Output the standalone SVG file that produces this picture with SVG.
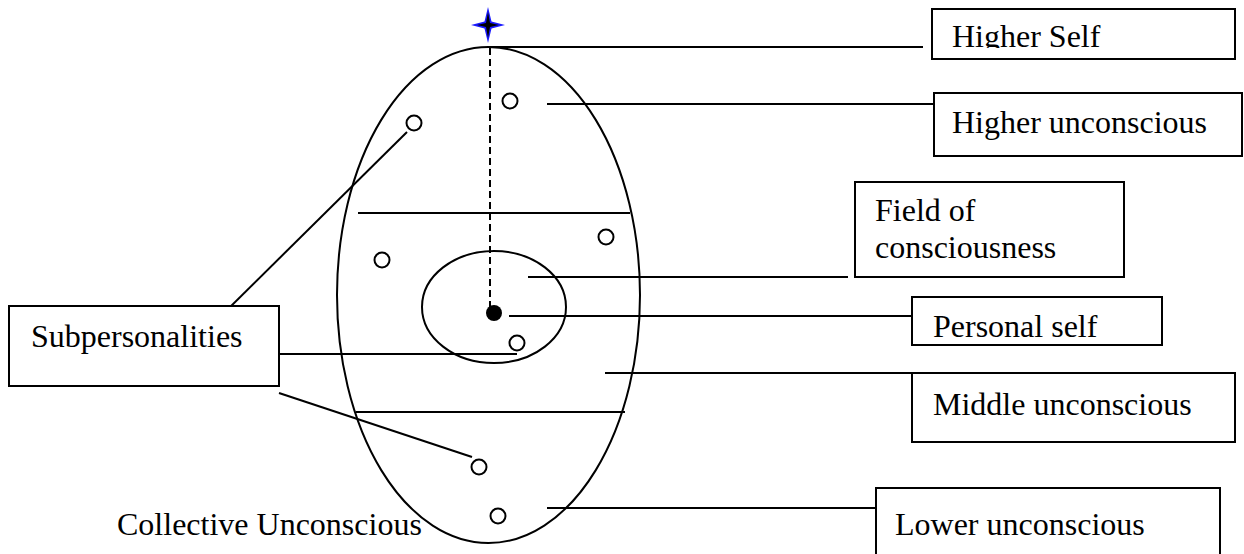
<svg xmlns="http://www.w3.org/2000/svg" width="1244" height="554" viewBox="0 0 1244 554">
<style>
.ln{stroke:#000;stroke-width:2;fill:none}
.box{stroke:#000;stroke-width:2;fill:#fff}
.dot{stroke:#000;stroke-width:2;fill:#fff}
.t{font-family:"Liberation Serif","Times New Roman",serif;font-size:32px;fill:#000}
</style>
<defs>
<clipPath id="clipHS"><rect x="933" y="9" width="300" height="39"/></clipPath>
<clipPath id="clipPS"><rect x="913" y="298" width="248" height="39"/></clipPath>
</defs>
<rect width="1244" height="554" fill="#fff"/>
<g id="psyche">
<ellipse class="ln" cx="488.5" cy="295" rx="151.5" ry="248"/>
<line class="ln" x1="358" y1="213" x2="630" y2="213"/>
<line class="ln" x1="356" y1="412" x2="625" y2="412"/>
<ellipse class="ln" cx="494" cy="307" rx="72" ry="56"/>
<line class="ln" x1="490" y1="48" x2="490" y2="307" stroke-dasharray="7,4"/>
<circle cx="494" cy="313" r="8" fill="#000"/>
<circle class="dot" cx="510" cy="101" r="7.5"/>
<circle class="dot" cx="414" cy="123" r="7.5"/>
<circle class="dot" cx="606" cy="237" r="7.5"/>
<circle class="dot" cx="382" cy="260" r="7.5"/>
<circle class="dot" cx="517" cy="343" r="7.5"/>
<circle class="dot" cx="479" cy="467" r="7.5"/>
<circle class="dot" cx="498" cy="516" r="7.5"/>
</g>
<g id="star">
<polygon points="488,7 491.5,21.5 505,25 491.5,28.5 488,43 484.5,28.5 471,25 484.5,21.5" fill="#1a1aff"/>
<polygon points="488,12 490,23 499,25 490,27 488,38 486,27 477,25 486,23" fill="#000"/>
</g>
<g id="connectors">
<line class="ln" x1="488" y1="47" x2="923" y2="47"/>
<line class="ln" x1="547" y1="104" x2="934" y2="104"/>
<line class="ln" x1="528" y1="277" x2="848" y2="277"/>
<line class="ln" x1="509" y1="316" x2="912" y2="316"/>
<line class="ln" x1="605" y1="373" x2="912" y2="373"/>
<line class="ln" x1="547" y1="508" x2="876" y2="508"/>
<line class="ln" x1="221" y1="316" x2="407" y2="132"/>
<line class="ln" x1="259" y1="354" x2="517" y2="354"/>
<line class="ln" x1="279" y1="393" x2="472" y2="457"/>
</g>
<g id="higher-self">
<rect class="box" x="932" y="9" width="303" height="50"/>
<text class="t" x="952" y="47" clip-path="url(#clipHS)">Higher Self</text>
</g>
<g id="higher-unconscious">
<rect class="box" x="934" y="93" width="308" height="63"/>
<text class="t" x="952" y="133">Higher unconscious</text>
</g>
<g id="field-of-consciousness">
<rect class="box" x="855" y="182" width="269" height="95"/>
<text class="t" x="875" y="221">Field of</text>
<text class="t" x="875" y="258">consciousness</text>
</g>
<g id="personal-self">
<rect class="box" x="912" y="297" width="250" height="48"/>
<text class="t" x="933" y="337" clip-path="url(#clipPS)">Personal self</text>
</g>
<g id="middle-unconscious">
<rect class="box" x="912" y="373" width="323" height="69"/>
<text class="t" x="933" y="415">Middle unconscious</text>
</g>
<g id="lower-unconscious">
<rect class="box" x="876" y="488" width="344" height="80"/>
<text class="t" x="895" y="535">Lower unconscious</text>
</g>
<g id="subpersonalities">
<rect class="box" x="9" y="306" width="270" height="80"/>
<text class="t" x="31" y="347">Subpersonalities</text>
</g>
<g id="collective-unconscious">
<text class="t" x="117" y="535">Collective Unconscious</text>
</g>
</svg>
